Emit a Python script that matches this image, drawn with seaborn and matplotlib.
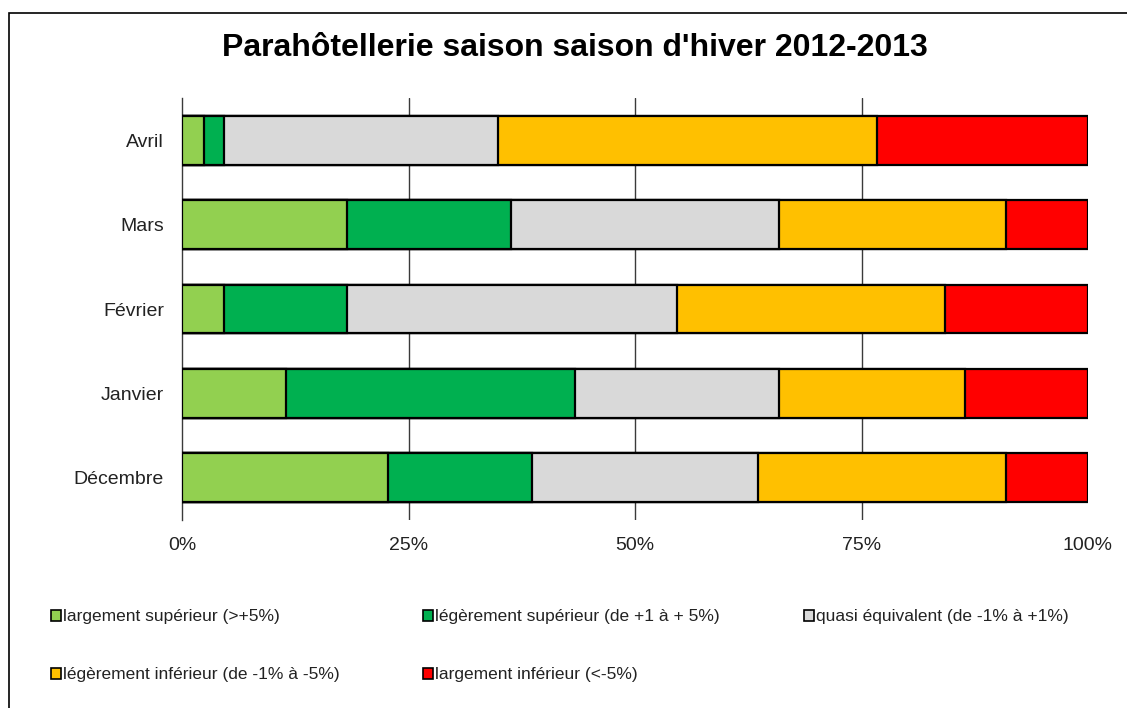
import matplotlib
matplotlib.use("Agg")
import matplotlib.pyplot as plt
import seaborn as sns
import pandas as pd
import numpy as np
from matplotlib.patches import Patch, Rectangle

months = ["Avril", "Mars", "Février", "Janvier", "Décembre"]
categories = [
    "largement supérieur (>+5%)",
    "légèrement supérieur (de +1 à + 5%)",
    "quasi équivalent (de -1% à +1%)",
    "légèrement inférieur (de -1% à -5%)",
    "largement inférieur (<-5%)",
]
colors = ["#92D050", "#00B050", "#D9D9D9", "#FFC000", "#FF0000"]

larg_sup = [2.4, 18.2, 4.6, 11.5, 22.7]
leg_sup = [2.2, 18.1, 13.6, 31.9, 15.9]
quasi = [30.3, 29.6, 36.4, 22.5, 25.0]
leg_inf = [41.8, 25.0, 29.6, 20.5, 27.3]
larg_inf = [23.3, 9.1, 15.8, 13.6, 9.1]

series = [larg_sup, leg_sup, quasi, leg_inf, larg_inf]
xticks = [0, 25, 50, 75, 100]
xticklabels = ["0%", "25%", "50%", "75%", "100%"]

sns.set_theme(style="white")
plt.rcParams["font.family"] = ["Liberation Sans", "DejaVu Sans"]

fig = plt.figure(figsize=(11.27, 7.08), dpi=100)
ax = fig.add_axes([182 / 1127, 1 - 520 / 708, (1088 - 182) / 1127, (520 - 98) / 708])

vals = np.array(series)
totals = vals.sum(axis=0)
pct = vals / totals * 100
cum = np.cumsum(pct, axis=0)

for i in range(len(categories) - 1, -1, -1):
    df = pd.DataFrame({"month": months, "value": cum[i]})
    sns.barplot(data=df, y="month", x="value", order=months, color=colors[i],
                width=0.58, edgecolor="black", linewidth=1.6, saturation=1,
                ax=ax, zorder=3)

ax.set_xlim(0, 100)
ax.set_ylim(4.5, -0.5)
for v in [25, 50, 75]:
    ax.axvline(v, color="#3a3a3a", linewidth=1.0, zorder=1)
ax.set_xticks(xticks)
ax.set_xticklabels(xticklabels)
ax.set_xlabel("")
ax.set_ylabel("")
for s in ["top", "right", "bottom"]:
    ax.spines[s].set_visible(False)
ax.spines["left"].set_color("#3a3a3a")
ax.spines["left"].set_linewidth(1.0)
ax.tick_params(axis="x", length=0, pad=12, labelsize=14, colors="#222222")
ax.tick_params(axis="y", length=0, pad=13, labelsize=14, colors="#222222")

fig.text(575 / 1127, 1 - 48 / 708, "Parahôtellerie saison saison d'hiver 2012-2013",
         ha="center", va="center", fontsize=23, fontweight="bold", color="black")

# legend
positions = [(42, 617), (414, 617), (795, 617), (42, 675), (414, 675)]
for cat, col, (px, py) in zip(categories, colors, positions):
    fig.legend(handles=[Patch(facecolor=col, edgecolor="black", linewidth=1.2)],
               labels=[cat], loc="center left",
               bbox_to_anchor=(px / 1127, 1 - py / 708),
               frameon=False, fontsize=12.5, handlelength=0.6, handleheight=0.6,
               handletextpad=0.12, borderpad=0, labelcolor="#222222")

# outer frame
fig.patches.append(Rectangle((9 / 1127, -0.05), 1.2, 1 - 13 / 708 + 0.05,
                             transform=fig.transFigure, fill=False,
                             edgecolor="black", linewidth=1.2))

fig.savefig("out.png", dpi=100)
